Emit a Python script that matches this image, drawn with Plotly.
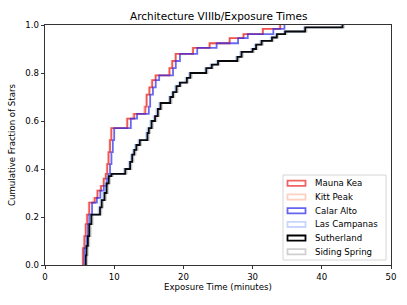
import plotly.graph_objects as go

# ---- data ----
sites = ["Mauna Kea", "Kitt Peak", "Calar Alto", "Las Campanas", "Sutherland", "Siding Spring"]

mk_t = [5.5, 5.7, 5.9, 6.1, 6.4, 7.2, 7.6, 8.1, 8.5, 8.8, 9.0, 9.2, 9.4, 9.6, 11.9,
        12.9, 14.5, 14.7, 15.1, 15.5, 16.0, 18.0, 18.4, 18.9, 21.4, 23.8, 26.7, 28.7, 31.5, 34.0]
kp_t = [5.4, 5.6, 5.8, 6.0, 6.3, 7.0, 7.5, 8.0, 8.4, 8.7, 8.9, 9.1, 9.3, 9.5, 11.8,
        12.7, 14.3, 14.6, 15.0, 15.4, 15.9, 17.9, 18.3, 18.8, 21.3, 23.7, 26.6, 28.6, 31.4, 33.9]
ca_t = [5.7, 6.0, 6.2, 6.4, 6.8, 7.5, 8.0, 8.5, 8.9, 9.2, 9.4, 9.6, 9.8, 10.0, 12.4,
        13.3, 15.0, 15.2, 15.6, 16.0, 16.5, 18.5, 18.9, 19.5, 22.0, 24.8, 27.9, 29.3, 33.0, 34.6]
frac_a = [0.07, 0.12, 0.17, 0.21, 0.26, 0.28, 0.31, 0.33, 0.36, 0.38, 0.42, 0.47, 0.52, 0.57, 0.61,
          0.63, 0.66, 0.71, 0.74, 0.77, 0.79, 0.82, 0.85, 0.88, 0.905, 0.924, 0.945, 0.962, 0.984, 1.0]

lc_t = [5.8, 5.9, 6.1, 6.3, 6.5, 7.75, 8.0, 8.4, 8.7, 9.0, 9.4, 11.4, 12.1, 12.4, 12.7,
        13.0, 13.5, 14.6, 14.8, 15.2, 15.7, 16.1, 16.5, 17.9, 18.3, 18.8, 19.3, 20.3, 20.8, 23.1,
        23.9, 24.8, 27.6, 28.2, 29.8, 30.3, 31.1, 32.6, 33.3, 34.5, 37.4, 42.8]
su_t = [5.9, 6.0, 6.2, 6.4, 6.7, 7.95, 8.2, 8.6, 8.9, 9.2, 9.6, 11.6, 12.3, 12.6, 12.9,
        13.2, 13.7, 14.8, 15.0, 15.4, 15.9, 16.3, 16.7, 18.1, 18.5, 19.0, 19.5, 20.5, 21.0, 23.3,
        24.1, 25.0, 27.8, 28.4, 30.0, 30.5, 31.3, 32.8, 33.5, 34.7, 37.6, 43.0]
ss_t = [6.1, 6.2, 6.4, 6.6, 6.9, 8.15, 8.4, 8.8, 9.1, 9.4, 9.8, 11.8, 12.5, 12.8, 13.1,
        13.4, 13.9, 15.0, 15.2, 15.6, 16.1, 16.5, 16.9, 18.3, 18.7, 19.2, 19.7, 20.7, 21.2, 23.5,
        24.3, 25.2, 28.0, 28.6, 30.2, 30.7, 31.5, 33.0, 33.7, 34.9, 37.8, 43.2]
frac_b = [0.04, 0.08, 0.12, 0.17, 0.21, 0.24, 0.27, 0.30, 0.34, 0.37, 0.38, 0.40, 0.43, 0.46, 0.48,
          0.50, 0.52, 0.55, 0.57, 0.60, 0.62, 0.65, 0.675, 0.70, 0.72, 0.745, 0.76, 0.78, 0.80, 0.82,
          0.835, 0.85, 0.867, 0.888, 0.90, 0.918, 0.934, 0.948, 0.962, 0.973, 0.99, 1.0]

x_ticks = [0, 10, 20, 30, 40, 50]
y_ticks = [0.0, 0.2, 0.4, 0.6, 0.8, 1.0]

colors = {
    "Mauna Kea": "rgba(235,40,40,0.75)",
    "Kitt Peak": "rgba(255,150,120,0.45)",
    "Calar Alto": "rgba(40,40,235,0.7)",
    "Las Campanas": "rgba(120,160,255,0.45)",
    "Sutherland": "rgba(0,0,0,0.95)",
    "Siding Spring": "rgba(0,0,0,0.2)",
}
legend_colors = {
    "Mauna Kea": "#f06464",
    "Kitt Peak": "#ffd0c0",
    "Calar Alto": "#6464f0",
    "Las Campanas": "#c8d6ff",
    "Sutherland": "#000000",
    "Siding Spring": "#d0d0d0",
}
series = {
    "Mauna Kea": (mk_t, frac_a),
    "Kitt Peak": (kp_t, frac_a),
    "Calar Alto": (ca_t, frac_a),
    "Las Campanas": (lc_t, frac_b),
    "Sutherland": (su_t, frac_b),
    "Siding Spring": (ss_t, frac_b),
}
draw_order = ["Kitt Peak", "Mauna Kea", "Calar Alto", "Las Campanas", "Siding Spring", "Sutherland"]

W, H = 407, 305
L, R, T, B = 45, 16, 25, 40
pw, ph = W - L - R, H - T - B


def px(x):
    return (x - L) / pw


def py(y):
    return (H - B - y) / ph


fig = go.Figure()
for name in draw_order:
    t, f = series[name]
    fig.add_trace(go.Scatter(
        x=[t[0]] + t, y=[0] + f, mode="lines",
        line=dict(shape="hv", color=colors[name], width=1.8),
        showlegend=False, hoverinfo="skip", name=name,
    ))

font = "DejaVu Sans, Arial, sans-serif"
shapes = []
annotations = []
# legend frame
shapes.append(dict(type="rect", xref="paper", yref="paper",
                   x0=px(283), x1=px(386), y0=py(260), y1=py(175),
                   line=dict(color="#d6d6d6", width=1), fillcolor="rgba(255,255,255,0.85)",
                   layer="above"))
row0, drow = 183.3, 13.7
for i, name in enumerate(sites):
    yc = row0 + i * drow
    shapes.append(dict(type="rect", xref="paper", yref="paper",
                       x0=px(287.5), x1=px(305.5), y0=py(yc + 2.6), y1=py(yc - 2.6),
                       line=dict(color=legend_colors[name], width=1.8), fillcolor="white",
                       layer="above"))
    annotations.append(dict(text=name, xref="paper", yref="paper", x=px(313), y=py(yc),
                            xanchor="left", yanchor="middle", showarrow=False,
                            font=dict(family=font, size=8.6, color="#000")))

annotations.append(dict(text="Architecture VIIIb/Exposure Times", xref="paper", yref="paper",
                        x=0.5, y=py(16), xanchor="center", yanchor="middle", showarrow=False,
                        font=dict(family=font, size=10.5, color="#000")))
annotations.append(dict(text="Exposure Time (minutes)", xref="paper", yref="paper",
                        x=0.5, y=py(287), xanchor="center", yanchor="middle", showarrow=False,
                        font=dict(family=font, size=8.6, color="#000")))
annotations.append(dict(text="Cumulative Fraction of Stars", xref="paper", yref="paper",
                        x=px(12), y=py(145), xanchor="center", yanchor="middle", showarrow=False,
                        textangle=-90, font=dict(family=font, size=8.6, color="#000")))

axis_common = dict(showgrid=False, zeroline=False, showline=True, linecolor="#000", linewidth=0.8,
                   mirror=True, ticks="outside", ticklen=3.5, tickwidth=0.8, tickcolor="#000",
                   automargin=False,
                   tickfont=dict(family=font, size=8.6, color="#000"))

fig.update_layout(
    width=W, height=H, margin=dict(l=L, r=R, t=T, b=B, autoexpand=False),
    paper_bgcolor="white", plot_bgcolor="white",
    xaxis=dict(range=[0, 50], tickvals=x_ticks, ticktext=[str(v) for v in x_ticks], **axis_common),
    yaxis=dict(range=[0, 1], tickvals=y_ticks, ticktext=[f"{v:.1f}" for v in y_ticks], **axis_common),
    shapes=shapes, annotations=annotations, showlegend=False,
)
fig.write_html("out.html", config={"displayModeBar": False, "staticPlot": True},
               post_script="document.body.style.margin='0';document.body.style.overflow='hidden';")
